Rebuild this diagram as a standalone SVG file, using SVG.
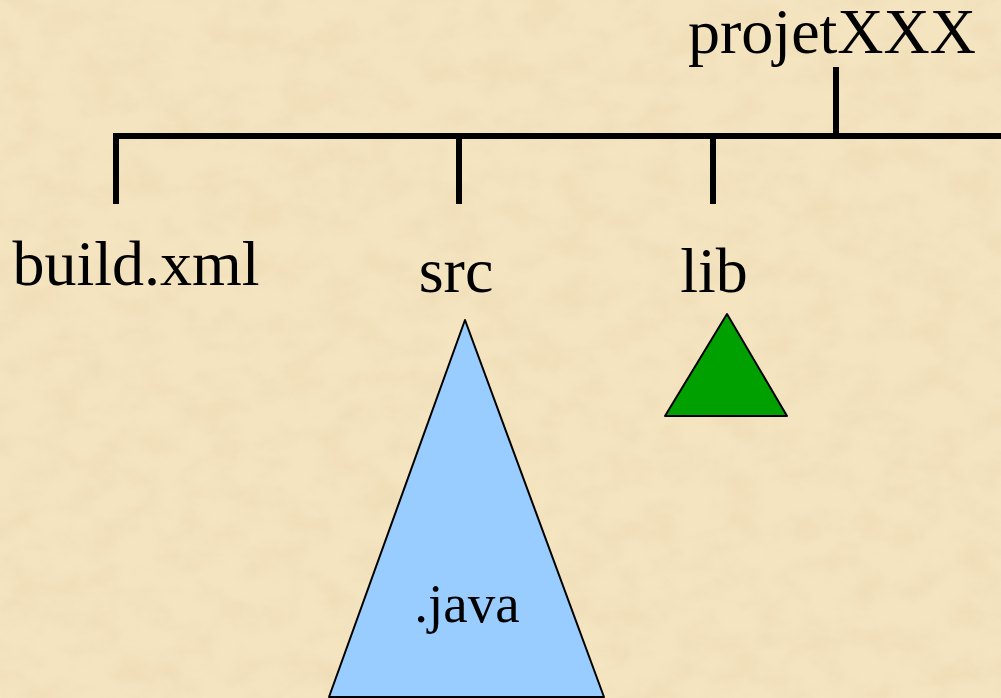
<svg xmlns="http://www.w3.org/2000/svg" width="1001" height="698" viewBox="0 0 1001 698">
<defs>
<filter id="paper" x="0" y="0" width="100%" height="100%">
<feTurbulence type="fractalNoise" baseFrequency="0.025 0.035" numOctaves="4" seed="7" result="n"/>
<feColorMatrix in="n" type="matrix" values="0 0 0 0 0.82  0 0 0 0 0.68  0 0 0 0 0.42  0 0 0 1.6 -0.62" result="c"/>
<feComposite in="c" in2="SourceGraphic" operator="in"/>
</filter>
<style>
.t{font-family:"Liberation Serif","Times New Roman",serif;fill:#000;}
.ln{stroke:#000;stroke-width:6;fill:none;}
.tri{stroke:#000;stroke-width:2;stroke-linejoin:round;}
</style>
</defs>
<rect width="1001" height="698" fill="#F4E4C0"/>
<rect width="1001" height="698" fill="#fff" filter="url(#paper)" opacity="0.6"/>
<g id="connectors">
<path class="ln" d="M836,67 V136"/>
<path class="ln" d="M116,204 V136 H1001"/>
<path class="ln" d="M459,136 V204"/>
<path class="ln" d="M713,136 V204"/>
</g>
<g id="projetXXX"><text class="t" x="832" y="53" font-size="64" text-anchor="middle">projetXXX</text></g>
<g id="build"><text class="t" x="136" y="285" font-size="64" text-anchor="middle">build.xml</text></g>
<g id="src"><text class="t" x="456" y="292" font-size="64" text-anchor="middle">src</text></g>
<g id="lib"><text class="t" x="714" y="292" font-size="64" text-anchor="middle">lib</text></g>
<g id="lib-tree"><polygon class="tri" fill="#00A000" points="727,314 787,416 665,416"/></g>
<g id="src-tree"><polygon class="tri" fill="#99CCFF" points="465,320 604,697 329,697"/>
<text class="t" x="467" y="622" font-size="55" text-anchor="middle">.java</text></g>
</svg>
